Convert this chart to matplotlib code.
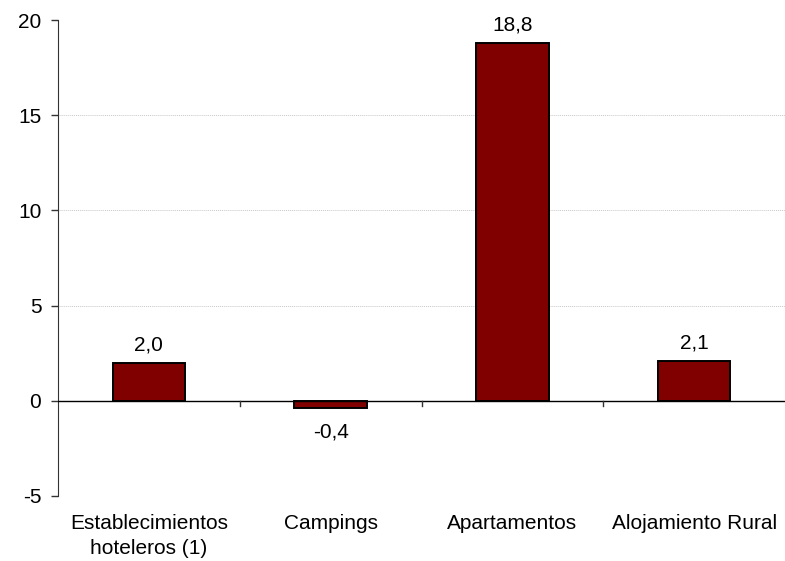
import matplotlib
matplotlib.use('Agg')
import matplotlib.pyplot as plt

plt.rcParams['font.family'] = ['Liberation Sans', 'DejaVu Sans']

categorias = ['Establecimientos\nhoteleros (1)', 'Campings', 'Apartamentos', 'Alojamiento Rural']
valores = [2.0, -0.4, 18.8, 2.1]
etiquetas = ['2,0', '-0,4', '18,8', '2,1']

fig = plt.figure(figsize=(7.85, 5.61), dpi=100)
ax = fig.add_axes([0.0739, 0.1159, 0.9261, 0.8484])

x = range(len(categorias))
ax.bar(x, valores, width=0.4, color='#800000', edgecolor='black', linewidth=1.4, zorder=3)

ax.set_xlim(-0.5, 3.5)
ax.set_ylim(-5, 20)
ax.set_yticks([-5, 0, 5, 10, 15, 20])
ax.set_yticklabels(['-5', '0', '5', '10', '15', '20'])
ax.tick_params(axis='y', labelsize=15, length=5, width=1, pad=7, color='#333333')

# rejilla
for v in [5, 10, 15]:
    ax.axhline(v, color='#c8c8c8', linestyle=(0, (1, 1)), linewidth=0.7, zorder=1)
ax.axhline(0, color='black', linewidth=1, zorder=4)

for s in ['top', 'right', 'bottom']:
    ax.spines[s].set_visible(False)
ax.spines['left'].set_color('#333333')

# marcas del eje x en el cero
ax.set_xticks([])
for xt in [0.5, 1.5, 2.5]:
    ax.plot([xt, xt], [0, -0.25], color='#333333', linewidth=1, zorder=4, clip_on=False)

for i, c in enumerate(categorias):
    ax.text(i, -0.038, c, transform=ax.get_xaxis_transform(), ha='center', va='top',
            fontsize=15, linespacing=1.4)

for i, (v, t) in enumerate(zip(valores, etiquetas)):
    if v >= 0:
        ax.annotate(t, (i, v), xytext=(0, 6), textcoords='offset points',
                    ha='center', va='bottom', fontsize=15)
    else:
        ax.annotate(t, (i, v), xytext=(0, -10), textcoords='offset points',
                    ha='center', va='top', fontsize=15)

fig.savefig('out.png', dpi=100)
